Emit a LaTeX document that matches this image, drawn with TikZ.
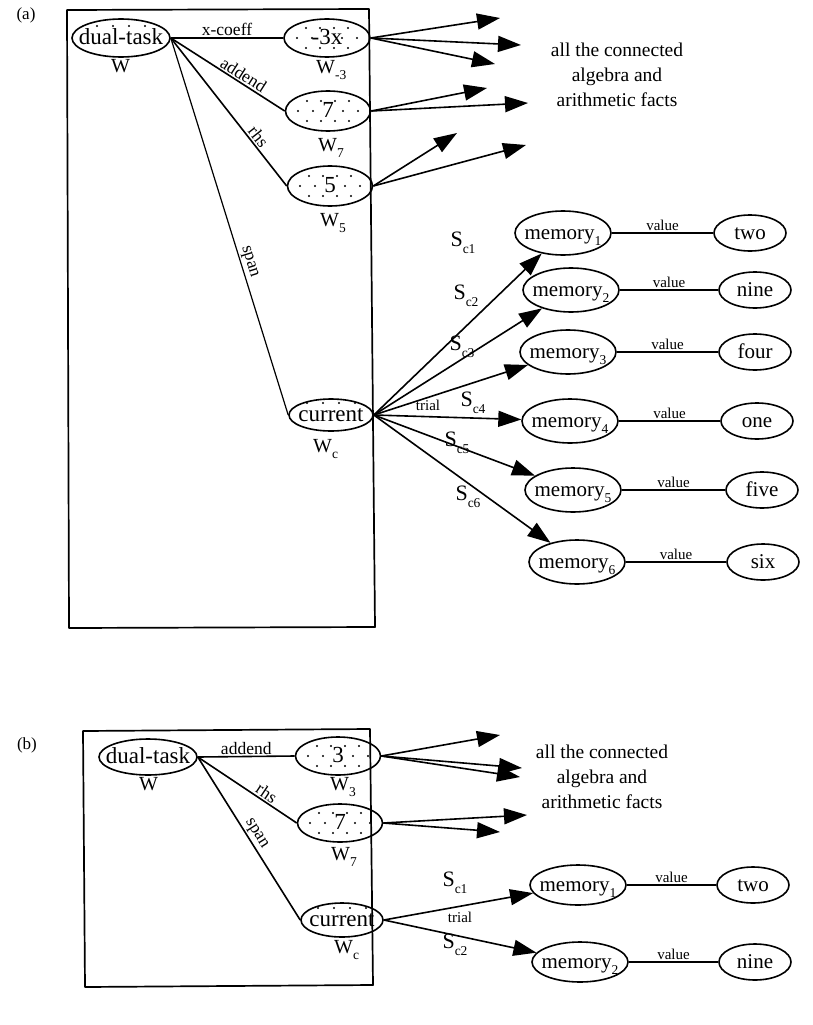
\documentclass[tikz,border=0pt]{standalone}
\usepackage{fontspec}
\setmainfont{Liberation Serif}
\usetikzlibrary{shapes.geometric,arrows.meta}

\newcommand\nodefont{\fontsize{23}{26}\selectfont}
\newcommand\memfont{\fontsize{21}{24}\selectfont}
\newcommand\factfont{\fontsize{19.5}{25}\selectfont}
\newcommand\labfont{\fontsize{17.5}{20}\selectfont}
\newcommand\wfont{\fontsize{20}{22}\selectfont}
\newcommand\sfont{\fontsize{22}{24}\selectfont}
\newcommand\smallfont{\fontsize{15}{17}\selectfont}
\newcommand\subfont{\fontsize{13.5}{14}\selectfont}
\newcommand\lowsub[1]{\raisebox{-0.3em}{\subfont #1}}
% text of zero width so that the ellipse keeps its given size
\newcommand\fittext[1]{\raisebox{0pt}[0.6em][0pt]{\makebox[0pt]{#1}}}

\tikzset{
  unit/.style={ellipse, draw, line width=1.6pt, inner sep=0pt, font=\nodefont},
  memnode/.style={unit, font=\memfont, minimum width=96pt, minimum height=44pt},
  valnode/.style={unit, font=\memfont, minimum width=72pt, minimum height=36pt},
  frame/.style={line width=1.7pt, line join=round},
  link/.style={line width=1.6pt},
  spanlink/.style={line width=1.2pt},
  vallink/.style={line width=1.2pt},
  arrowlink/.style={line width=1.6pt, -{Triangle[length=23pt,width=16pt]}},
  elab/.style={font=\labfont, inner sep=1.5pt},
  vlab/.style={font=\smallfont, inner sep=2pt},
  wlab/.style={font=\wfont, inner sep=0pt},
  slab/.style={font=\sfont, inner sep=0pt},
  tag/.style={font=\fontsize{17}{19}\selectfont, inner sep=0pt},
  facts/.style={font=\factfont, align=center, inner sep=0pt},
  stipple/.style={path picture={
    \foreach \dx/\dy in {-21/-10,-7/-10,7/-10,21/-10,-30/0,-15/0,15/0,30/0,-21/10,-7/10,7/10,21/10}
      \fill ([shift={(\dx,\dy)}]path picture bounding box.center) circle[radius=1.2pt];
  }},
  toprow/.style={path picture={
    \foreach \dx in {-24,-8,8,24}
      \fill ([shift={(\dx,-12)}]path picture bounding box.center) circle[radius=1.1pt];
  }},
}

\begin{document}
\begin{tikzpicture}[x=1pt,y=-1pt]
\useasboundingbox (0,0) rectangle (813,1025);

% ---------------- panel (a) ----------------
\node[tag] (tagA) at (26,15) {(a)};
\draw[frame] (67,10) -- (369,9) -- (375,627) -- (69,628) -- cycle;

\node[unit, minimum width=98pt, minimum height=38pt, toprow] (dualA) at (121,38) {\fittext{dual-task}};
\node[unit, minimum width=86pt, minimum height=38pt, stipple] (n3xA) at (327,38) {\fittext{-3x}};
\node[unit, minimum width=85pt, minimum height=40pt, stipple] (n7A) at (328,111) {\fittext{7}};
\node[unit, minimum width=85pt, minimum height=40pt, stipple] (n5A) at (330,186) {\fittext{5}};
\node[unit, minimum width=84pt, minimum height=32pt, toprow] (curA) at (331,415) {\fittext{current}};

\node[wlab, anchor=base west] (wA) at (111,73) {W};
\node[wlab, anchor=base west] (w3xA) at (316,74) {W\lowsub{-3}};
\node[wlab, anchor=base west] (w7A) at (318,151) {W\lowsub{7}};
\node[wlab, anchor=base west] (w5A) at (320,226) {W\lowsub{5}};
\node[wlab, anchor=base west] (wcA) at (313,452) {W\lowsub{c}};

\draw[link] (dualA.east) -- node[elab, above] {x-coeff} (n3xA.west);
\draw[link] (dualA.east) -- node[elab, above, sloped, pos=0.6] {addend} (n7A.west);
\draw[link] (dualA.east) -- node[elab, above, sloped, pos=0.7] {rhs} (n5A.west);
\draw[spanlink] (dualA.east) -- node[elab, above, sloped, pos=0.6] {span} (curA.west);

% links out to the arithmetic facts
\coordinate (fa1) at (500,18);
\coordinate (fa2) at (521,45);
\coordinate (fa3) at (495,64);
\coordinate (fa4) at (487,88);
\coordinate (fa5) at (528,103);
\coordinate (fa6) at (457,133);
\coordinate (fa7) at (526,145);
\draw[arrowlink] (n3xA.east) -- (fa1);
\draw[arrowlink] (n3xA.east) -- (fa2);
\draw[arrowlink] (n3xA.east) -- (fa3);
\draw[arrowlink] (n7A.east) -- (fa4);
\draw[arrowlink] (n7A.east) -- (fa5);
\draw[arrowlink] (n5A.east) -- (fa6);
\draw[arrowlink] (n5A.east) -- (fa7);

\node[facts] (factsA) at (617,75) {all the connected\\algebra and\\arithmetic facts};

% memory chunks
\node[memnode] (m1A) at (563,233) {\fittext{memory\lowsub{1}}};
\node[memnode] (m2A) at (571,290) {\fittext{memory\lowsub{2}}};
\node[memnode] (m3A) at (568,352) {\fittext{memory\lowsub{3}}};
\node[memnode] (m4A) at (570,421) {\fittext{memory\lowsub{4}}};
\node[memnode] (m5A) at (573,490) {\fittext{memory\lowsub{5}}};
\node[memnode] (m6A) at (577,562) {\fittext{memory\lowsub{6}}};

\node[valnode] (v1A) at (750,233) {\fittext{two}};
\node[valnode] (v2A) at (755,290) {\fittext{nine}};
\node[valnode] (v3A) at (755,352) {\fittext{four}};
\node[valnode] (v4A) at (757,421) {\fittext{one}};
\node[valnode] (v5A) at (762,490) {\fittext{five}};
\node[valnode] (v6A) at (763,562) {\fittext{six}};

\foreach \i in {1,...,6} {
  \draw[arrowlink] (curA.east) -- (m\i A);
  \draw[vallink] (m\i A.east) -- node[vlab, above] {value} (v\i A.west);
}

\node[slab] (sc1A) at (463,243) {S\lowsub{c1}};
\node[slab] (sc2A) at (466,296) {S\lowsub{c2}};
\node[slab] (sc3A) at (462,347) {S\lowsub{c3}};
\node[vlab] (trialA) at (428,405) {trial};
\node[slab] (sc4A) at (473,403) {S\lowsub{c4}};
\node[slab] (sc5A) at (457,443) {S\lowsub{c5}};
\node[slab] (sc6A) at (468,497) {S\lowsub{c6}};

% ---------------- panel (b) ----------------
\node[tag] (tagB) at (27,745) {(b)};
\draw[frame] (83,731) -- (370,729) -- (373,985) -- (85,987) -- cycle;

\node[unit, minimum width=98pt, minimum height=36pt] (dualB) at (148,757) {\fittext{dual-task}};
\node[unit, minimum width=85pt, minimum height=38pt, stipple] (n3B) at (338,756) {\fittext{3}};
\node[unit, minimum width=85pt, minimum height=38pt, stipple] (n7B) at (340,823) {\fittext{7}};
\node[unit, minimum width=82pt, minimum height=34pt, toprow] (curB) at (342,920) {\fittext{current}};

\node[wlab, anchor=base west] (wB) at (139,790) {W};
\node[wlab, anchor=base west] (w3B) at (330,790) {W\lowsub{3}};
\node[wlab, anchor=base west] (w7B) at (331,860) {W\lowsub{7}};
\node[wlab, anchor=base west] (wcB) at (334,953) {W\lowsub{c}};

\draw[link] (dualB.east) -- node[elab, above] {addend} (n3B.west);
\draw[link] (dualB.east) -- node[elab, above, sloped, pos=0.65] {rhs} (n7B.west);
\draw[link] (dualB.east) -- node[elab, above, sloped, pos=0.5] {span} (curB.west);

\coordinate (fb1) at (500,735);
\coordinate (fb2) at (522,768);
\coordinate (fb3) at (520,777);
\coordinate (fb4) at (527,815);
\coordinate (fb5) at (500,832);
\draw[arrowlink] (n3B.east) -- (fb1);
\draw[arrowlink] (n3B.east) -- (fb2);
\draw[arrowlink] (n3B.east) -- (fb3);
\draw[arrowlink] (n7B.east) -- (fb4);
\draw[arrowlink] (n7B.east) -- (fb5);

\node[facts] (factsB) at (602,777) {all the connected\\algebra and\\arithmetic facts};

\node[memnode, minimum height=40pt] (m1B) at (578,885) {\fittext{memory\lowsub{1}}};
\node[memnode, minimum height=40pt] (m2B) at (580,962) {\fittext{memory\lowsub{2}}};
\node[valnode] (v1B) at (753,885) {\fittext{two}};
\node[valnode] (v2B) at (755,962) {\fittext{nine}};

\draw[arrowlink] (curB.east) -- (m1B);
\draw[arrowlink] (curB.east) -- (m2B);
\draw[vallink] (m1B.east) -- node[vlab, above] {value} (v1B.west);
\draw[vallink] (m2B.east) -- node[vlab, above] {value} (v2B.west);

\node[slab] (sc1B) at (455,883) {S\lowsub{c1}};
\node[vlab] (trialB) at (460,917) {trial};
\node[slab] (sc2B) at (455,945) {S\lowsub{c2}};
\end{tikzpicture}
\end{document}
